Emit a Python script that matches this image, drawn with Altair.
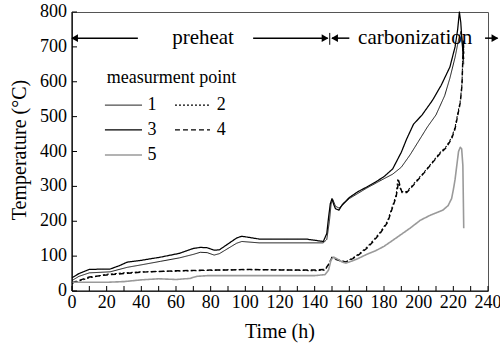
import altair as alt
import pandas as pd

# ---- data ----
t1 = [0, 4, 10, 22, 32, 40, 51, 62, 70, 74, 78, 82, 85, 90, 95, 98, 108, 120, 145, 147, 148.5, 149.5, 150.5, 152, 154, 156, 160, 170, 180, 185, 190, 195, 200, 205, 210, 215, 218, 221, 223, 224.5, 225.5, 226]
v1 = [30, 42, 52, 55, 68, 75, 85, 95, 105, 111, 110, 103, 107, 122, 137, 142, 138, 138, 138, 148, 200, 250, 262, 243, 238, 246, 265, 295, 322, 335, 355, 390, 430, 470, 505, 560, 610, 670, 720, 745, 700, 650]

t2 = [0, 5, 10, 20, 30, 40, 60, 80, 90, 100, 120, 140, 146, 148, 150, 152, 155, 158, 162, 166, 170, 174, 178, 182, 185, 187, 188, 189, 190, 193, 195, 199, 203, 208, 212, 216, 219, 221, 222, 224, 225, 225.5, 225.8, 226]
v2 = [22, 30, 38, 48, 52, 55, 57, 59, 61, 61, 61, 58, 60, 75, 97, 92, 87, 84, 95, 108, 125, 146, 170, 200, 245, 275, 322, 300, 285, 285, 295, 318, 340, 370, 395, 415, 440, 470, 495, 545, 595, 680, 720, 690]

t3 = [0, 4, 10, 22, 27, 32, 40, 51, 62, 70, 74, 78, 82, 85, 90, 95, 98, 103, 108, 120, 135, 145, 147, 148, 149, 150, 151, 152, 154, 156, 160, 165, 170, 175, 180, 185, 190, 193, 197, 202, 208, 213, 218, 221, 222.5, 223.5, 224.3, 225, 225.5, 226]
v3 = [38, 50, 62, 63, 72, 83, 88, 97, 108, 122, 125, 124, 117, 118, 135, 152, 157, 153, 149, 149, 149, 142, 165, 210, 250, 265, 248, 236, 232, 248, 268, 285, 298, 312, 328, 350, 398, 435, 478, 505, 547, 590, 642, 700, 750, 800, 770, 715, 690, 665]

t4 = [0, 5, 10, 20, 30, 40, 60, 80, 90, 100, 120, 140, 146, 148, 150, 152, 155, 158, 162, 166, 170, 174, 178, 182, 185, 187, 188.5, 189.5, 190.5, 193, 195, 199, 203, 208, 212, 216, 219, 221, 222, 224, 225, 225.5, 225.8, 226]
v4 = [24, 32, 40, 46, 50, 54, 58, 60, 60, 62, 60, 60, 62, 76, 96, 91, 86, 83, 93, 106, 122, 143, 167, 196, 240, 270, 316, 296, 282, 282, 292, 315, 338, 368, 392, 412, 436, 465, 490, 540, 590, 670, 710, 680]

t5 = [0, 20, 30, 40, 50, 60, 68, 72, 78, 100, 120, 140, 146, 148, 149.5, 151, 153, 156, 158, 161, 165, 170, 175, 180, 187, 195, 201, 207, 214, 217, 219, 220, 221, 222, 223, 224, 224.8, 225.5, 226]
v5 = [25, 25, 27, 32, 35, 33, 36, 42, 44, 44, 44, 44, 47, 60, 90, 97, 92, 83, 80, 85, 93, 105, 115, 128, 152, 180, 203, 218, 232, 245, 265, 290, 320, 360, 400, 412, 408, 360, 180]

series_names = ["1", "2", "3", "4", "5"]

x_ticks = list(range(0, 241, 10))
x_labels = list(range(0, 241, 20))
y_ticks = list(range(0, 801, 100))

x_title = "Time (h)"
y_title = "Temperature (°C)"
legend_title = "measurment point"

# phase annotations
phase_text = ["preheat", "carbonization"]
phase_t = [75.6, 198]
phase_v = 725

rows = []
for name, ts, vs in zip(series_names, [t1, t2, t3, t4, t5], [v1, v2, v3, v4, v5]):
    for i, (t, v) in enumerate(zip(ts, vs)):
        rows.append({"series": name, "t": t, "v": v, "i": i})
df = pd.DataFrame(rows)

FONT = "Liberation Serif"
W, H = 416, 279

x_scale = alt.Scale(domain=[0, 240], nice=False)
y_scale = alt.Scale(domain=[0, 800], nice=False)


def X(field):
    return alt.X(field, type="quantitative", scale=x_scale, axis=None)


def Y(field):
    return alt.Y(field, type="quantitative", scale=y_scale, axis=None)


color_enc = alt.Color("series:N", legend=None, scale=alt.Scale(
    domain=series_names, range=["black", "black", "black", "black", "#9a9a9a"]))
dash_enc = alt.StrokeDash("series:N", legend=None, scale=alt.Scale(
    domain=series_names, range=[[1, 0], [2, 2], [1, 0], [5, 3], [1, 0]]))
width_enc = alt.StrokeWidth("series:N", legend=None, scale=alt.Scale(
    domain=series_names, range=[0.9, 1.6, 2.2, 1.6, 3]))

lines = alt.Chart(df).mark_line(strokeCap="butt", strokeJoin="round").encode(
    x=X("t"), y=Y("v"), order="i:Q",
    color=color_enc, strokeDash=dash_enc, strokeWidth=width_enc,
)

# axis lines and inward tick marks
axis_lines = alt.Chart(pd.DataFrame({"k": [0]})).mark_rule(color="black", strokeWidth=1.2).encode(
    x=alt.value(0), x2=alt.value(W), y=alt.value(H))
axis_lines_y = alt.Chart(pd.DataFrame({"k": [0]})).mark_rule(color="black", strokeWidth=1.2).encode(
    x=alt.value(0), y=alt.value(0), y2=alt.value(H))
xt = alt.Chart(pd.DataFrame({"t": x_ticks})).mark_rule(color="black", strokeWidth=1).encode(
    x=X("t"), y=alt.value(H), y2=alt.value(H - 5))
yt = alt.Chart(pd.DataFrame({"v": y_ticks})).mark_rule(color="black", strokeWidth=1).encode(
    y=Y("v"), x=alt.value(0), x2=alt.value(5))

# tick labels and titles
xl = alt.Chart(pd.DataFrame({"t": x_labels, "lab": [str(x) for x in x_labels]})).mark_text(
    font=FONT, fontSize=18, color="black", baseline="middle", align="center").encode(
    x=X("t"), y=alt.value(H + 12), text="lab:N")
yl = alt.Chart(pd.DataFrame({"v": y_ticks, "lab": [str(y) for y in y_ticks]})).mark_text(
    font=FONT, fontSize=18, color="black", baseline="middle", align="right").encode(
    y=Y("v"), x=alt.value(-5), text="lab:N")
xtitle = alt.Chart(pd.DataFrame({"lab": [x_title]})).mark_text(
    font=FONT, fontSize=20, color="black", baseline="middle", align="center").encode(
    x=alt.value(208), y=alt.value(320), text="lab:N")
ytitle = alt.Chart(pd.DataFrame({"lab": [y_title]})).mark_text(
    font=FONT, fontSize=20, color="black", baseline="middle", align="center",
    angle=270).encode(x=alt.value(-52), y=alt.value(138), text="lab:N")

# manual legend (positions in data units)
leg_df = pd.DataFrame({
    "series": series_names,
    "a": [19.0, 59.4, 19.0, 59.4, 19.0],
    "b": [40.4, 79.6, 40.4, 79.6, 40.4],
    "lt": [43.5, 83.5, 43.5, 83.5, 43.5],
    "v": [533, 533, 462, 462, 390],
})
leg_lines = alt.Chart(leg_df).mark_rule(strokeCap="butt").encode(
    x=X("a"), x2="b:Q", y=Y("v"),
    color=color_enc, strokeDash=dash_enc, strokeWidth=width_enc)
leg_labels = alt.Chart(leg_df).mark_text(
    font=FONT, fontSize=18, color="black", baseline="middle", align="left").encode(
    x=X("lt"), y=Y("v"), text="series:N")
leg_title = alt.Chart(pd.DataFrame({"t": [20.0], "v": [612], "lab": [legend_title]})).mark_text(
    font=FONT, fontSize=18, color="black", baseline="middle", align="left").encode(
    x=X("t"), y=Y("v"), text="lab:N")

# arrows for phases
arrow_df = pd.DataFrame({
    "t": [0, 104.5, 150, 238.3],
    "b": [38, 147.5, 160, 245.5],
    "v": [phase_v] * 4,
})
arrow_lines = alt.Chart(arrow_df).mark_rule(color="black", strokeWidth=1.5).encode(
    x=X("t"), x2="b:Q", y=Y("v"))

head_df = pd.DataFrame({
    "t": [1.5, 146, 151.5, 244],
    "v": [phase_v] * 4,
    "shape": ["triangle-left", "triangle-right", "triangle-left", "triangle-right"],
})
heads = alt.Chart(head_df).mark_point(filled=True, color="black", size=60, opacity=1,
                                      strokeWidth=0).encode(
    x=X("t"), y=Y("v"),
    shape=alt.Shape("shape:N", scale=None, legend=None))

bar_df = pd.DataFrame({"t": [148.7], "v": [706], "v2": [740]})
bar = alt.Chart(bar_df).mark_rule(color="black", strokeWidth=1).encode(
    x=X("t"), y=Y("v"), y2="v2:Q")

text_df = pd.DataFrame({"text": phase_text, "t": phase_t, "v": [phase_v] * 2})
texts = alt.Chart(text_df).mark_text(font=FONT, fontSize=21, color="black",
                                     baseline="middle", align="center").encode(
    x=X("t"), y=Y("v"), text="text:N")

chart = alt.layer(
    lines, axis_lines, axis_lines_y, xt, yt, xl, yl, xtitle, ytitle,
    leg_lines, leg_labels, leg_title, arrow_lines, heads, bar, texts,
).properties(
    width=W, height=H,
    autosize=alt.AutoSizeParams(type="none"),
    padding={"left": 72, "top": 12, "right": 12, "bottom": 55},
).configure_view(stroke="#555", strokeWidth=1)

chart.save("out.html", embed_options={"renderer": "svg", "actions": False})
